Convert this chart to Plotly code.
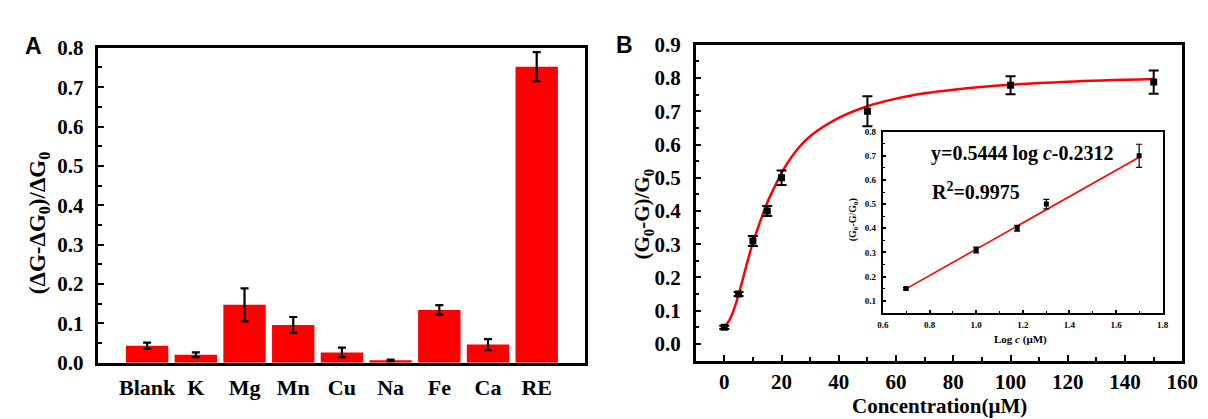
import plotly.graph_objects as go

W, H = 1208, 419

# ---------------- data ----------------
ions = ["Blank", "K", "Mg", "Mn", "Cu", "Na", "Fe", "Ca", "RE"]
response = [0.043, 0.020, 0.147, 0.096, 0.026, 0.006, 0.134, 0.046, 0.752]
response_err = [0.008, 0.006, 0.042, 0.020, 0.012, 0.002, 0.012, 0.014, 0.037]

conc = [0, 5, 10, 15, 20, 50, 100, 150]
signal = [0.05, 0.15, 0.31, 0.40, 0.50, 0.70, 0.778, 0.788]
signal_err = [0.005, 0.006, 0.015, 0.015, 0.022, 0.045, 0.027, 0.035]

curve_x = [0, 2, 4, 6, 8, 10, 12, 15, 18, 20, 25, 30, 40, 50, 60, 70, 80, 100, 120, 150]
curve_y = [0.05, 0.075, 0.12, 0.18, 0.245, 0.305, 0.355, 0.425, 0.48, 0.515,
           0.58, 0.625, 0.68, 0.715, 0.738, 0.754, 0.765, 0.78, 0.789, 0.797]

log_c = [0.699, 1.0, 1.176, 1.301, 1.699]
ratio = [0.15, 0.31, 0.40, 0.50, 0.70]
ratio_err = [0.004, 0.012, 0.012, 0.02, 0.048]

fit_x = [0.699, 1.699]
fit_y = [0.149, 0.694]

SERIF = "Liberation Serif, Times New Roman, serif"
SANS = "Liberation Sans, Arial, sans-serif"


def px_x(p):
    return p / W


def px_y(p):
    return 1 - p / H


fig = go.Figure()

# Panel A bars
fig.add_trace(go.Bar(
    x=ions, y=response,
    marker=dict(color="#FF0000", line=dict(width=0)),
    error_y=dict(type="data", array=response_err, color="black", thickness=2.2, width=4),
    xaxis="x", yaxis="y", showlegend=False,
))

# Panel B curve + points
fig.add_trace(go.Scatter(
    x=curve_x, y=curve_y, mode="lines", line=dict(color="#FF0000", width=2.5, shape="spline"),
    xaxis="x2", yaxis="y2", showlegend=False,
))
fig.add_trace(go.Scatter(
    x=conc, y=signal, mode="markers",
    marker=dict(symbol="square", color="black", size=7),
    error_y=dict(type="data", array=signal_err, color="black", thickness=2, width=5),
    xaxis="x2", yaxis="y2", showlegend=False,
))

# Inset
fig.add_trace(go.Scatter(
    x=fit_x, y=fit_y, mode="lines", line=dict(color="#FF0000", width=1.6),
    xaxis="x3", yaxis="y3", showlegend=False,
))
fig.add_trace(go.Scatter(
    x=log_c, y=ratio, mode="markers",
    marker=dict(symbol="square", color="black", size=5),
    error_y=dict(type="data", array=ratio_err, color="black", thickness=1.2, width=3),
    xaxis="x3", yaxis="y3", showlegend=False,
))

tickfont = dict(family=SERIF, size=21, color="black", weight="bold")
catfont = dict(family=SERIF, size=22, color="black", weight="bold")
smallfont = dict(family=SERIF, size=9, color="black", weight="bold")

axis_common = dict(showline=True, linecolor="black", mirror=True, showgrid=False,
                   zeroline=False)

fig.update_layout(
    width=W, height=H,
    margin=dict(l=0, r=0, t=0, b=0),
    paper_bgcolor="white", plot_bgcolor="white",
    bargap=0.13,
    xaxis=dict(**axis_common, linewidth=2.5, domain=[px_x(86), px_x(582)], anchor="y",
               type="category", range=[-1, 9], ticks="", tickfont=catfont,
               ticklabelstandoff=3),
    yaxis=dict(**axis_common, linewidth=2.5, domain=[px_y(363.5), px_y(29.5)], anchor="x",
               range=[0, 0.8], dtick=0.1, tickformat=".1f", ticks="inside", ticklen=6,
               tickwidth=2, tickcolor="black", tickfont=tickfont, ticklabelstandoff=8,
               minor=dict(ticks="inside", ticklen=4, tickwidth=2, dtick=0.05, tickcolor="black")),
    xaxis2=dict(**axis_common, linewidth=2.5, domain=[px_x(694.3), px_x(1190)], anchor="y2",
                range=[-10, 160], dtick=20, ticks="inside", ticklen=6, tickwidth=2,
                tickcolor="black", tickfont=tickfont, ticklabelstandoff=0,
                minor=dict(ticks="inside", ticklen=4, tickwidth=2, dtick=10, tickcolor="black")),
    yaxis2=dict(**axis_common, linewidth=2.5, domain=[px_y(361.3), px_y(26.3)], anchor="x2",
                range=[-0.05, 0.9], dtick=0.1, tick0=0, tickformat=".1f", ticks="inside",
                ticklen=6, tickwidth=2, tickcolor="black", tickfont=tickfont, ticklabelstandoff=8,
                minor=dict(ticks="inside", ticklen=4, tickwidth=2, dtick=0.05, tickcolor="black")),
    xaxis3=dict(**axis_common, linewidth=2, domain=[px_x(885), px_x(1170)], anchor="y3",
                range=[0.6, 1.8], dtick=0.2, tickformat=".1f", ticks="inside", ticklen=3,
                tickwidth=1.5, tickcolor="black", tickfont=smallfont, ticklabelstandoff=2,
                minor=dict(ticks="inside", ticklen=2, tickwidth=1, dtick=0.1, tickcolor="black")),
    yaxis3=dict(**axis_common, linewidth=2, domain=[px_y(310.5), px_y(118.5)], anchor="x3",
                range=[0.05, 0.8], dtick=0.1, tick0=0, tickformat=".1f", ticks="inside",
                ticklen=3, tickwidth=1.5, tickcolor="black", tickfont=smallfont,
                ticklabelstandoff=3,
                minor=dict(ticks="inside", ticklen=2, tickwidth=1, dtick=0.05, tickcolor="black")),
)

annotations = [
    dict(text="A", x=px_x(20), y=px_y(28), font=dict(family=SANS, size=23, color="black", weight="bold")),
    dict(text="B", x=px_x(622), y=px_y(26), font=dict(family=SANS, size=23, color="black", weight="bold")),
    dict(text="(ΔG-ΔG<sub>0</sub>)/ΔG<sub>0</sub>", x=px_x(25), y=px_y(216), textangle=-90,
         font=dict(family=SERIF, size=23, color="black", weight="bold")),
    dict(text="(G<sub>0</sub>-G)/G<sub>0</sub>", x=px_x(641), y=px_y(206), textangle=-90,
         font=dict(family=SERIF, size=21, color="black", weight="bold")),
    dict(text="Concentration(μM)", x=px_x(943), y=px_y(409),
         font=dict(family=SERIF, size=21, color="black", weight="bold")),
    dict(text="Log <i>c</i> (μM)", x=px_x(1025), y=px_y(339),
         font=dict(family=SERIF, size=11, color="black", weight="bold")),
    dict(text="(G<sub>0</sub>-G/G<sub>0</sub>)", x=px_x(855), y=px_y(212), textangle=-90,
         font=dict(family=SERIF, size=10, color="black", weight="bold")),
    dict(text="y=0.5444 log <i>c</i>-0.2312", x=px_x(1027), y=px_y(142),
         font=dict(family=SERIF, size=20, color="black", weight="bold")),
    dict(text="R<sup>2</sup>=0.9975", x=px_x(980), y=px_y(181),
         font=dict(family=SERIF, size=20, color="black", weight="bold")),
]
for a in annotations:
    a.update(xref="paper", yref="paper", showarrow=False, xanchor="center", yanchor="middle")
fig.update_layout(annotations=annotations)

fig.write_html("out.html")
